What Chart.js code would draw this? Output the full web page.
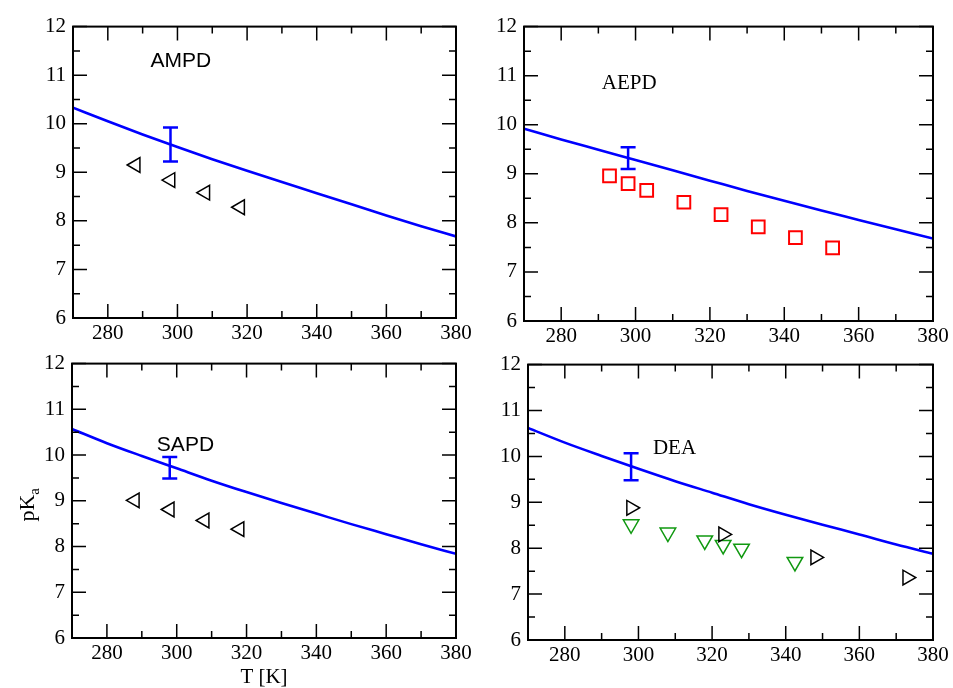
<!DOCTYPE html>
<html>
<head>
<meta charset="utf-8">
<script src="https://cdn.jsdelivr.net/npm/chart.js@4.4.1/dist/chart.umd.min.js"></script>
<style>
body { margin: 0; background: #fff; width: 953px; height: 688px; overflow: hidden; position: relative; }
.panel { position: absolute; }
</style>
</head>
<body>
<div class="panel" id="p1"><canvas id="c1"></canvas></div>
<div class="panel" id="p2"><canvas id="c2"></canvas></div>
<div class="panel" id="p3"><canvas id="c3"></canvas></div>
<div class="panel" id="p4"><canvas id="c4"></canvas></div>
<script>
// axis ticks
const xTicks = [280, 300, 320, 340, 360, 380];
const xMinor = [290, 310, 330, 350, 370];
const yTicks = [6, 7, 8, 9, 10, 11, 12];
const yMinor = [6.5, 7.5, 8.5, 9.5, 10.5, 11.5];

// calculated pKa curves (blue lines)
const curveT = [270, 280, 290, 300, 310, 320, 330, 340, 350, 360, 370, 380];
const ampdCurve = [10.33, 10.05, 9.78, 9.52, 9.27, 9.03, 8.80, 8.57, 8.34, 8.11, 7.89, 7.68];
const aepdCurve = [9.92, 9.70, 9.49, 9.28, 9.07, 8.86, 8.65, 8.45, 8.25, 8.06, 7.87, 7.68];
const sapdCurve = [10.57, 10.26, 9.98, 9.71, 9.44, 9.19, 8.95, 8.72, 8.49, 8.27, 8.05, 7.84];
const deaCurve = [10.62, 10.30, 10.01, 9.73, 9.46, 9.21, 8.96, 8.73, 8.51, 8.30, 8.08, 7.88];

// error bars at 298 K
const errT = 298;
const errLo = [9.22, 9.10, 9.49, 9.48];
const errHi = [9.92, 9.54, 9.96, 10.07];

// experimental points
const ampdT = [288, 298, 308, 318];
const ampdExp = [9.15, 8.84, 8.58, 8.28];
const aepdT = [293, 298, 303, 313, 323, 333, 343, 353];
const aepdExp = [8.96, 8.80, 8.66, 8.42, 8.17, 7.92, 7.70, 7.49];
const sapdT = [288, 298, 308, 318];
const sapdExp = [9.01, 8.81, 8.57, 8.38];
const deaT1 = [298, 323, 348, 373];
const deaExp1 = [8.88, 8.30, 7.80, 7.36];
const deaT2 = [298, 308, 318, 323, 328, 342.5];
const deaExp2 = [8.52, 8.34, 8.17, 8.07, 7.99, 7.70];

// panel names and where they sit (data coords)
const names = ['AMPD', 'AEPD', 'SAPD', 'DEA'];
const nameX = [301, 298.3, 302.5, 309.8];
const nameY = [11.29, 10.84, 10.22, 10.17];

Chart.defaults.font.family = 'Liberation Serif';
Chart.defaults.font.size = 21;
Chart.defaults.color = '#000';

const pts = (xs, ys) => xs.map((x, i) => ({ x: x, y: ys[i] }));

const framePlugin = {
    id: 'frame',
    afterDatasetsDraw(chart, args, opts) {
        const { ctx, chartArea: a } = chart;
        const x = chart.scales.x, y = chart.scales.y;
        ctx.save();
        ctx.strokeStyle = '#000';
        ctx.lineWidth = 1.5;
        ctx.beginPath();
        const xt = (v, len) => {
            const px = x.getPixelForValue(v);
            ctx.moveTo(px, a.bottom); ctx.lineTo(px, a.bottom - len);
            ctx.moveTo(px, a.top); ctx.lineTo(px, a.top + len);
        };
        const yt = (v, len) => {
            const py = y.getPixelForValue(v);
            ctx.moveTo(a.left, py); ctx.lineTo(a.left + len, py);
            ctx.moveTo(a.right, py); ctx.lineTo(a.right - len, py);
        };
        xTicks.forEach(v => xt(v, 14));
        xMinor.forEach(v => xt(v, 7));
        yTicks.forEach(v => yt(v, 14));
        yMinor.forEach(v => yt(v, 7));
        ctx.stroke();
        ctx.lineWidth = 2;
        ctx.strokeRect(a.left, a.top, a.width, a.height);

        // panel name
        ctx.fillStyle = '#000';
        ctx.font = '21px ' + opts.family;
        ctx.textAlign = 'center';
        ctx.textBaseline = 'middle';
        ctx.fillText(names[opts.idx], x.getPixelForValue(nameX[opts.idx]), y.getPixelForValue(nameY[opts.idx]));

        // y axis title with subscript
        if (opts.ylabel) {
            ctx.translate(a.left - 38, (a.top + a.bottom) / 2 + 4);
            ctx.rotate(-Math.PI / 2);
            ctx.font = '22px Liberation Serif';
            ctx.textBaseline = 'alphabetic';
            ctx.textAlign = 'left';
            const w1 = ctx.measureText('pK').width;
            ctx.font = '15px Liberation Serif';
            const w2 = ctx.measureText('a').width;
            const x0 = -(w1 + w2) / 2;
            ctx.font = '22px Liberation Serif';
            ctx.fillText('pK', x0, 0);
            ctx.font = '15px Liberation Serif';
            ctx.fillText('a', x0 + w1, 5);
        }
        ctx.restore();
    }
};

function makePanel(idx, rect, curve, markerSets, opts) {
    const [L, T, R, B] = rect;
    const xh = opts.xtitle ? 52 : 32;
    const wrap = document.getElementById('p' + (idx + 1));
    wrap.style.left = (L - 60) + 'px';
    wrap.style.top = (T - 14) + 'px';
    const canvas = document.getElementById('c' + (idx + 1));
    canvas.width = R - L + 60 + 24;
    canvas.height = B - T + 14 + xh;

    const datasets = [
        ...markerSets,
        {
            data: pts([errT, errT], [errLo[idx], errHi[idx]]),
            showLine: true,
            borderColor: '#0000ff',
            borderWidth: 2.5,
            pointStyle: 'line',
            pointRadius: 7.5,
            pointHoverRadius: 7.5,
            pointBorderColor: '#0000ff',
            pointBorderWidth: 2.5
        },
        {
            data: pts(curveT, curve),
            showLine: true,
            borderColor: '#0000ff',
            borderWidth: 2.6,
            pointRadius: 0,
            pointHoverRadius: 0,
            cubicInterpolationMode: 'monotone',
            fill: false
        }
    ];

    new Chart(canvas, {
        type: 'scatter',
        data: { datasets: datasets },
        options: {
            responsive: false,
            animation: false,
            events: [],
            layout: { padding: { left: 0, top: 14, right: 24, bottom: 0 } },
            plugins: {
                legend: { display: false },
                tooltip: { enabled: false },
                frame: { idx: idx, family: opts.family, ylabel: !!opts.ylabel }
            },
            scales: {
                x: {
                    type: 'linear',
                    min: 270,
                    max: 380,
                    afterBuildTicks: s => { s.ticks = xTicks.map(v => ({ value: v })); },
                    afterFit: s => { s.height = xh; },
                    grid: { display: false, drawTicks: false },
                    border: { display: false },
                    ticks: { padding: 3, color: '#000' },
                    title: {
                        display: !!opts.xtitle,
                        text: 'T [K]',
                        color: '#000',
                        font: { size: 21 },
                        padding: { top: 0, bottom: 0 }
                    }
                },
                y: {
                    type: 'linear',
                    min: 6,
                    max: 12,
                    afterBuildTicks: s => { s.ticks = yTicks.map(v => ({ value: v })); },
                    afterFit: s => { s.width = 60; },
                    grid: { display: false, drawTicks: false },
                    border: { display: false },
                    ticks: { padding: 7, color: '#000' }
                }
            }
        },
        plugins: [framePlugin]
    });
}

const openTri = (xs, ys, rot, color, r) => ({
    data: pts(xs, ys),
    showLine: false,
    pointStyle: 'triangle',
    pointRotation: rot,
    pointRadius: r,
    pointHoverRadius: r,
    pointBorderColor: color,
    pointBackgroundColor: 'rgba(0,0,0,0)',
    pointBorderWidth: 1.5
});

makePanel(0, [73, 21, 456.5, 318.5], ampdCurve,
    [openTri(ampdT, ampdExp, -90, '#000', 8.5)],
    { family: 'Liberation Sans' });

makePanel(1, [524, 21, 933, 321], aepdCurve,
    [{
        data: pts(aepdT, aepdExp),
        showLine: false,
        pointStyle: 'rect',
        pointRadius: 9,
        pointHoverRadius: 9,
        pointBorderColor: '#ff0000',
        pointBackgroundColor: 'rgba(0,0,0,0)',
        pointBorderWidth: 2
    }],
    { family: 'Liberation Serif' });

makePanel(2, [72, 358, 456, 638], sapdCurve,
    [openTri(sapdT, sapdExp, -90, '#000', 8.5)],
    { family: 'Liberation Sans', xtitle: true, ylabel: true });

makePanel(3, [528, 359, 933, 640], deaCurve,
    [openTri(deaT1, deaExp1, 90, '#000', 8.5),
     openTri(deaT2, deaExp2, 180, '#119911', 9)],
    { family: 'Liberation Serif' });
</script>
</body>
</html>
